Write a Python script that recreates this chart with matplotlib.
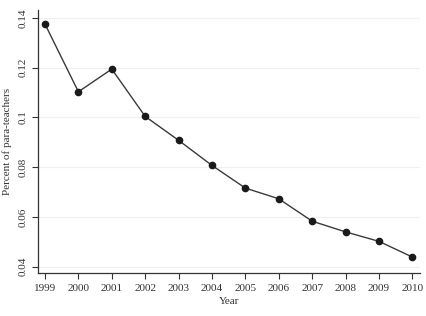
import matplotlib
matplotlib.use("Agg")
import matplotlib.pyplot as plt

years = [1999, 2000, 2001, 2002, 2003, 2004, 2005, 2006, 2007, 2008, 2009, 2010]
share = [0.1375, 0.1103, 0.1194, 0.1004, 0.0908, 0.0807, 0.0716, 0.0673, 0.0583, 0.0540, 0.0502, 0.0439]
yticks = [0.04, 0.06, 0.08, 0.1, 0.12, 0.14]
ytick_labels = ["0.04", "0.06", "0.08", "0.1", "0.12", "0.14"]

plt.rcParams['font.family'] = ['Liberation Serif', 'DejaVu Serif']

fig = plt.figure(figsize=(4.27, 3.16), dpi=100)
ax = fig.add_axes([0.0897, 0.135, 0.894, 0.833])

ax.plot(years, share, color='#3a3a3a', linewidth=1.0, marker='o', markersize=4.5,
        markerfacecolor='#1a1a1a', markeredgecolor='#1a1a1a', zorder=3)

ax.set_xlim(1998.80, 2010.23)
ax.set_ylim(0.03735, 0.1431)
ax.set_xticks(years)
ax.set_xticklabels([str(y) for y in years], fontsize=8)
ax.set_yticks(yticks)
ax.set_yticklabels(ytick_labels, fontsize=8, rotation=90, va='center')

for v in yticks:
    ax.axhline(v, color='#f0f0f0', linewidth=0.9, zorder=0)

for s in ['top', 'right']:
    ax.spines[s].set_visible(False)
for s in ['left', 'bottom']:
    ax.spines[s].set_color('#333333')
    ax.spines[s].set_linewidth(0.9)

ax.tick_params(axis='both', direction='out', length=4.5, width=0.8, color='#333333', labelcolor='#333333', pad=3)

ax.set_xlabel("Year", fontsize=8, color='#333333', labelpad=3)
ax.set_ylabel("Percent of para-teachers", fontsize=8, color='#333333', labelpad=5)

fig.savefig("out.png", dpi=100)
